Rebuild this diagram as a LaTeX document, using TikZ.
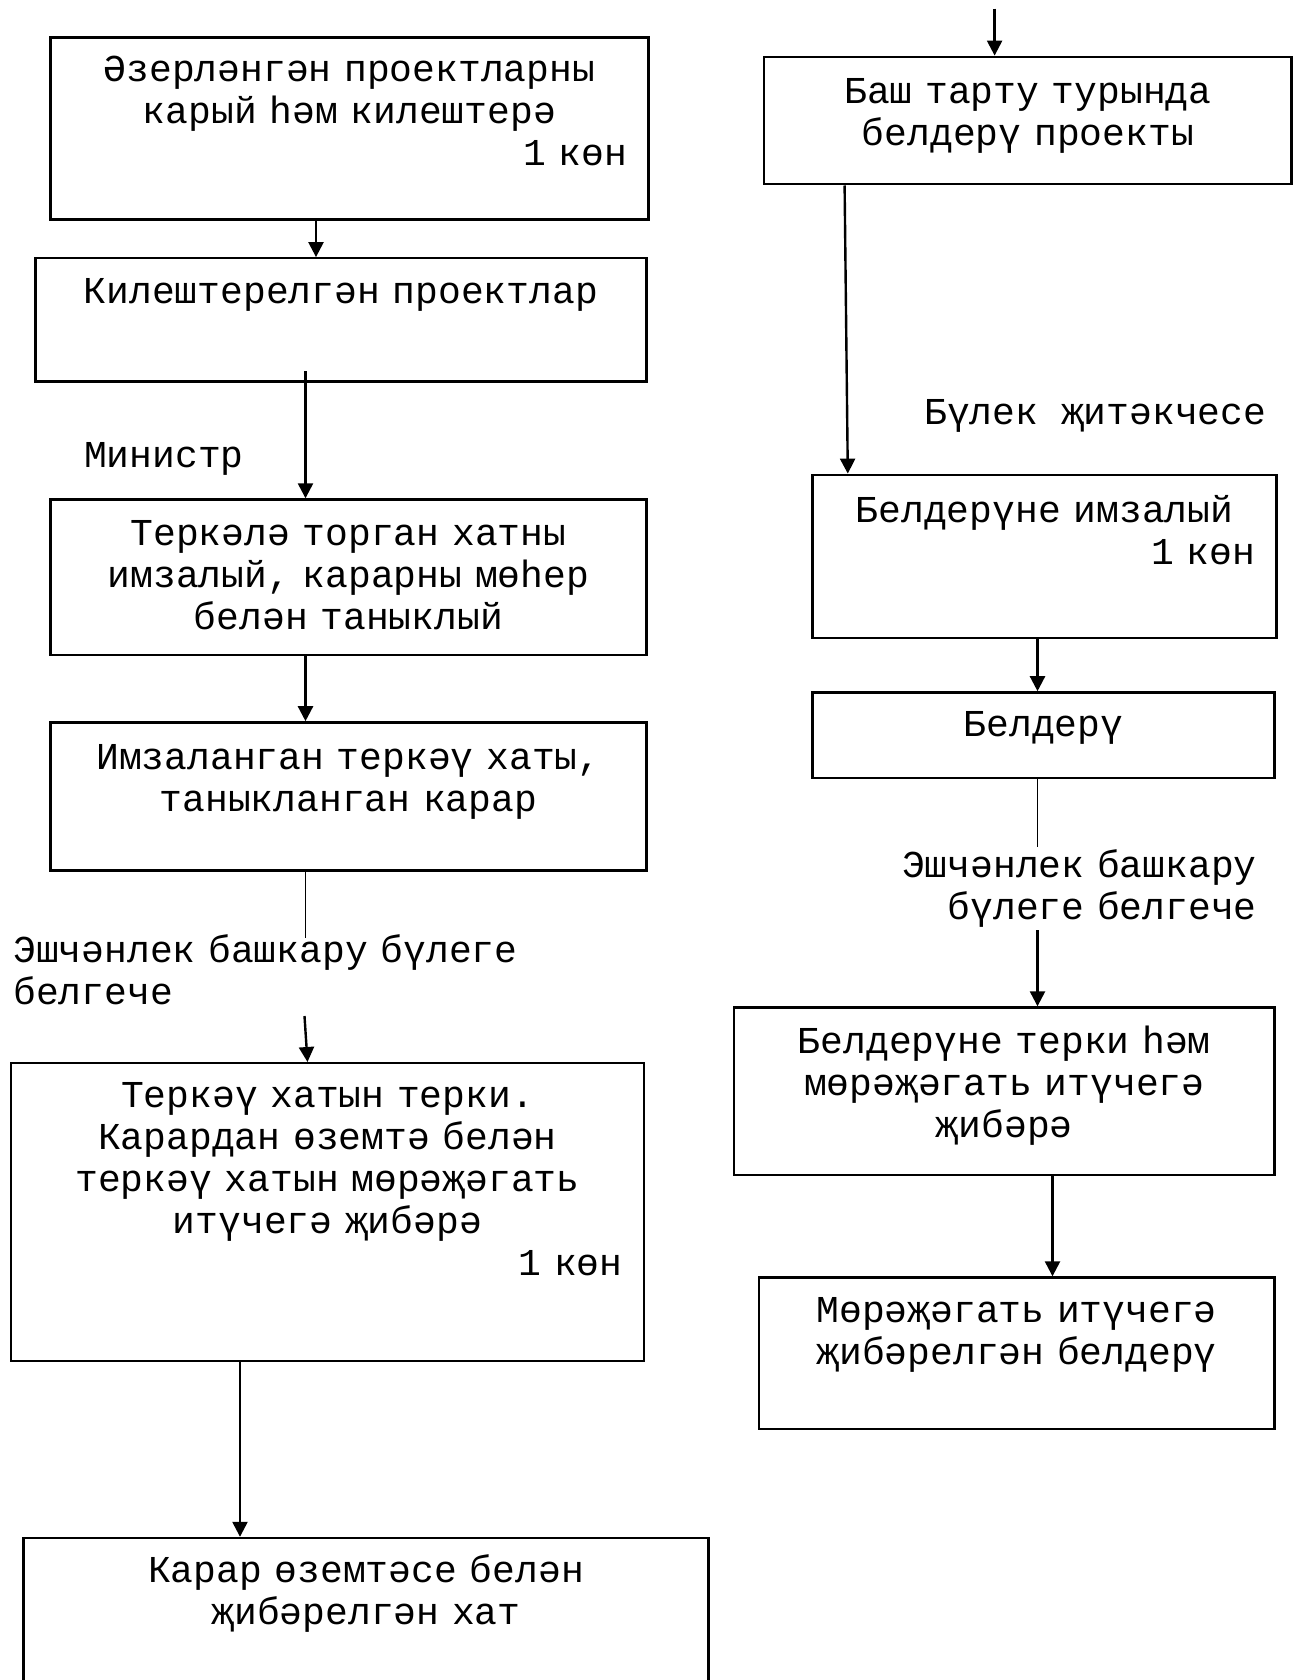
\documentclass[tikz,border=0pt]{standalone}
\usepackage{fontspec}
\setmonofont{Liberation Mono}
\usetikzlibrary{arrows.meta, fit}

\begin{document}
\begin{tikzpicture}[x=0.5pt, y=-0.5pt,
        box/.style={draw, line width=1.2pt, inner sep=0pt},
        txt/.style={font=\ttfamily\fontsize{19pt}{21pt}\selectfont, inner sep=0pt, align=center, anchor=base},
        lbl/.style={font=\ttfamily\fontsize{19pt}{21pt}\selectfont, inner sep=0pt},
        arr/.style={-{Triangle[length=7.5pt, width=7.5pt]}, line width=1.2pt},
        link/.style={line width=0.7pt}]
        \clip (0,0) rectangle (1299,1680);
        % Boxes
        \foreach \n/\xa/\ya/\xb/\yb in {b1/50.4/37.5/648.4/219.7, b2/35.4/258.3/646.3/381.6,
                b3/50.4/499.5/646.3/654.9, b4/50.4/722.4/646.3/870.3, b5/10.7/1063.2/644.2/1361.2,
                b6/23.6/1538/708.5/1700, r1/764.2/56.8/1291.5/184.3, r2/812.4/474.8/1276.5/637.7,
                r3/812.4/692.4/1274.4/778.1, r4/734.2/1007.5/1274.4/1174.7, r5/758.8/1277.5/1274.4/1428.7} {
            \node[box, fit={(\xa,\ya) (\xb,\yb)}] (\n) {};
        }
        % Texts, left column
        \node[txt, text width=277.5pt] (t1) at (349.4,82) {Әзерләнгән проектларны\\карый һәм килештерә\\\hspace*{\fill}1 көн};
        \node[txt, text width=290pt] (t2) at (340.9,303.5) {Килештерелгән проектлар};
        \node[lbl, anchor=base west] (minstr) at (83.6,467.5) {Министр};
        \node[txt, text width=290pt] (t3) at (348.4,545) {Теркәлә торган хатны\\имзалый, карарны мөһер\\белән таныклый};
        \node[txt, text width=290pt] (t4) at (348.4,769) {Имзаланган теркәү хаты,\\таныкланган карар};
        \node[lbl, anchor=base west, text width=270pt, align=left] (spec1) at (12.9,962) {Эшчәнлек башкару бүлеге\\белгече};
        \node[txt, text width=295pt] (t5) at (327.5,1107.5) {Теркәү хатын терки.\\Карардан өземтә белән\\теркәү хатын мөрәҗәгать\\итүчегә җибәрә\\\hspace*{\fill}1 көн};
        \node[txt, text width=300pt] (t6) at (366,1582.3) {Карар өземтәсе белән\\җибәрелгән хат};
        % Texts, right column
        \node[txt, text width=250pt] (s1) at (1027.9,103.5) {Баш тарту турында\\белдерү проекты};
        \node[lbl, anchor=base west] (chief) at (923.9,424.8) {Бүлек җитәкчесе};
        \node[txt, text width=210.5pt] (s2) at (1044.5,522) {Белдерүне имзалый\\\hspace*{\fill}1 көн};
        \node[txt, text width=200pt] (s3) at (1043.4,736.7) {Белдерү};
        \node[lbl, anchor=base east, text width=180pt, align=right] (spec2) at (1257.2,877.2) {Эшчәнлек башкару\\бүлеге белгече};
        \node[txt, text width=250pt] (s4) at (1004.3,1053) {Белдерүне терки һәм\\мөрәҗәгать итүчегә\\җибәрә};
        \node[txt, text width=240pt] (s5) at (1016.6,1322) {Мөрәҗәгать итүчегә\\җибәрелгән белдерү};
        % Free ends
        \coordinate (l4) at (305.5,937.8);
        \coordinate (l5) at (304.5,1016);
        \coordinate (top) at (994.6,8.6);
        \coordinate (m3) at (1037.5,846.7);
        \coordinate (m4) at (1037.5,930.3);
        % Connectors
        \draw[arr] (316,0 |- b1.south) -- (316,0 |- b2.north);
        \draw[arr] (305.5,0 |- b2.south) ++(0,-11.8) -- (305.5,0 |- b3.north);
        \draw[arr] (305.5,0 |- b3.south) -- (305.5,0 |- b4.north);
        \draw[link] (305.5,0 |- b4.south) -- (l4);
        \draw[arr] (l5) -- (307.5,0 |- b5.north);
        \draw[arr] (240,0 |- b5.south) -- (240,0 |- b6.north);
        \draw[arr] (top) -- (top |- r1.north);
        \draw[arr] (844.6,0 |- r1.south) -- (847.8,0 |- r2.north);
        \draw[arr] (1037.5,0 |- r2.south) -- (1037.5,0 |- r3.north);
        \draw[link] (1037.5,0 |- r3.south) -- (m3);
        \draw[arr] (m4) -- (m4 |- r4.north);
        \draw[arr] (1052.5,0 |- r4.south) -- (1052.5,0 |- r5.north);
\end{tikzpicture}
\end{document}
